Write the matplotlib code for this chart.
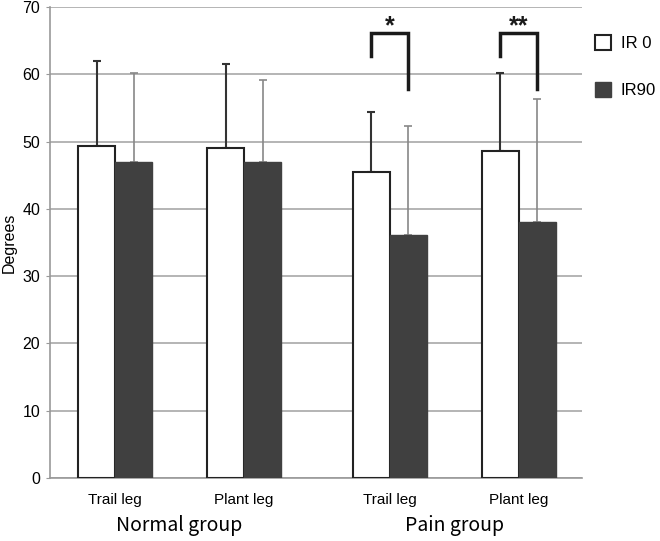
import matplotlib
matplotlib.use('Agg')
import matplotlib.pyplot as plt
from matplotlib.patches import Patch

plt.rcParams['font.family'] = ['Liberation Sans', 'DejaVu Sans']

legs = ['Trail leg', 'Plant leg', 'Trail leg', 'Plant leg']
groups = ['Normal group', 'Pain group']
ir0_mean = [49.3, 49.0, 45.5, 48.6]
ir0_sd = [12.7, 12.6, 8.9, 11.6]
ir90_mean = [47.0, 46.9, 36.1, 38.0]
ir90_sd = [13.2, 12.2, 16.2, 18.3]
sig_marks = ['', '', '*', '**']

centers = [0, 1, 2.13, 3.13]
w = 0.287
x0 = [c - w / 2 for c in centers]
x90 = [c + w / 2 for c in centers]

fig = plt.figure(figsize=(6.6, 5.41), dpi=100)
ax = fig.add_axes([0.0758, 0.1165, 0.806, 0.8705])

ax.bar(x0, ir0_mean, w, color='white', edgecolor='#222222', linewidth=1.5, zorder=3)
ax.bar(x90, ir90_mean, w, color='#404040', edgecolor='#404040', linewidth=1, zorder=3)
ax.errorbar(x0, ir0_mean, yerr=[[0] * 4, ir0_sd], fmt='none', ecolor='#333333',
            elinewidth=1.5, capsize=3, capthick=1.5, zorder=2)
ax.errorbar(x90, ir90_mean, yerr=[[0] * 4, ir90_sd], fmt='none', ecolor='#888888',
            elinewidth=1.2, capsize=3, capthick=1.2, zorder=2)

# significance brackets
for i, m in enumerate(sig_marks):
    if not m:
        continue
    ax.plot([x0[i], x0[i], x90[i], x90[i]], [62.7, 66.1, 66.1, 57.8],
            color='#1a1a1a', lw=2.5, solid_joinstyle='miter', clip_on=False, zorder=4)
    ax.text(centers[i], 65.3, m, ha='center', va='bottom', fontsize=18,
            fontweight='bold', color='#1a1a1a', clip_on=False)

ax.set_ylim(0, 70)
ax.set_xlim(-0.504, 3.62)
ax.set_yticks(range(0, 71, 10))
ax.tick_params(axis='y', length=3, color='#999999', labelsize=11.5, pad=4)
ax.tick_params(axis='x', length=0, labelbottom=False)
ax.yaxis.grid(True, color='#a8a8a8', lw=1.2, zorder=0)
ax.set_axisbelow(True)
for s in ['top', 'right']:
    ax.spines[s].set_visible(False)
ax.spines['left'].set_color('#999999')
ax.spines['bottom'].set_color('#999999')
ax.spines['left'].set_linewidth(1.2)
ax.spines['bottom'].set_linewidth(1.2)
ax.set_ylabel('Degrees', fontsize=11.5, labelpad=4)

for c, lab in zip(centers, legs):
    ax.text(c, -3.3, lab, ha='center', va='center', fontsize=11,
            family=['Liberation Sans Narrow', 'Liberation Sans'])
ax.text((centers[0] + centers[1]) / 2, -7.1, groups[0], ha='center', va='center',
        fontsize=14, family=['Noto Sans CJK JP', 'DejaVu Sans'])
ax.text((centers[2] + centers[3]) / 2, -7.1, groups[1], ha='center', va='center',
        fontsize=14, family=['Noto Sans CJK JP', 'DejaVu Sans'])

handles = [Patch(facecolor='white', edgecolor='#222222', lw=1.5),
           Patch(facecolor='#404040', edgecolor='#404040')]
ax.legend(handles, ['IR 0', 'IR90'], loc='upper left', bbox_to_anchor=(1.024, 0.94),
          frameon=False, handlelength=1.0, handleheight=1.0, labelspacing=1.85,
          handletextpad=0.55, borderpad=0, borderaxespad=0, fontsize=12)

fig.savefig('out.png', dpi=100)
